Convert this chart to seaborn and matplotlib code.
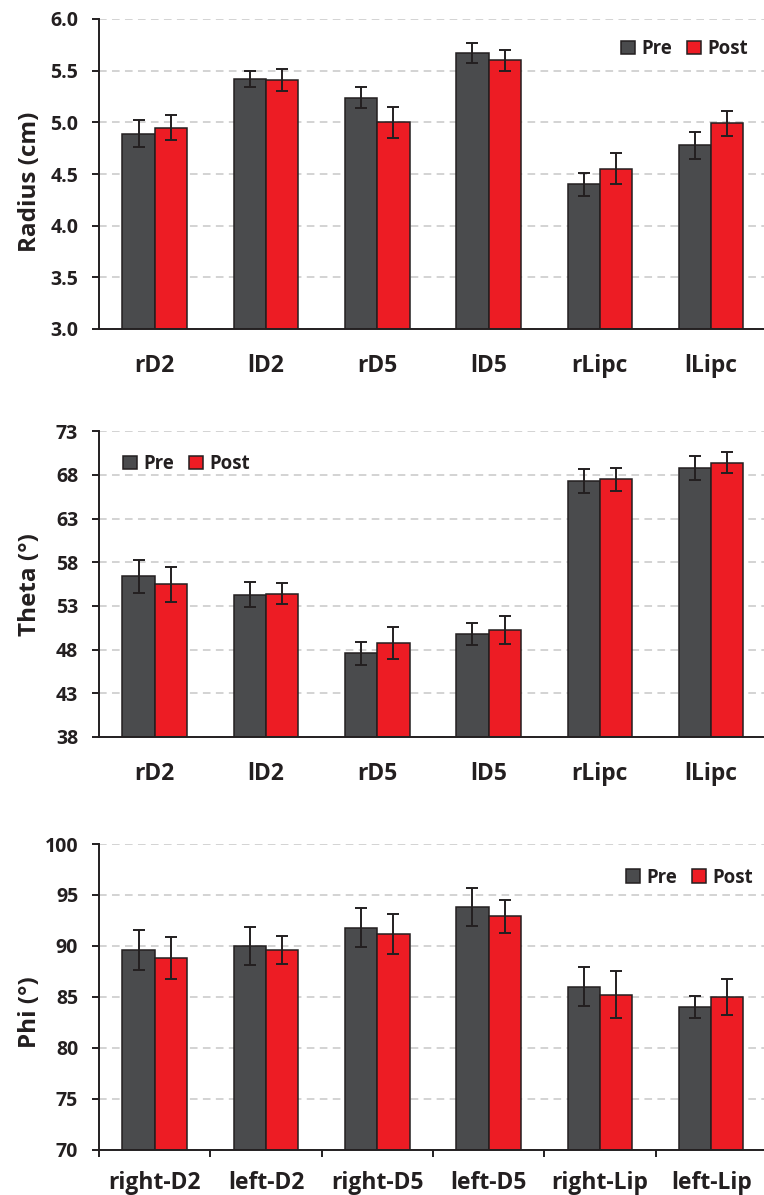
import numpy as np
import pandas as pd
import matplotlib
matplotlib.use("Agg")
import matplotlib.pyplot as plt
from matplotlib.ticker import FormatStrFormatter
import seaborn as sns

# ---- data ----
short_regions = ['rD2', 'lD2', 'rD5', 'lD5', 'rLipc', 'lLipc']
long_regions = ['right-D2', 'left-D2', 'right-D5', 'left-D5', 'right-Lip', 'left-Lip']
phases = ['Pre', 'Post']

radius_pre = [4.89, 5.42, 5.24, 5.67, 4.40, 4.78]
radius_post = [4.95, 5.41, 5.00, 5.60, 4.55, 4.99]
radius_pre_err = [0.13, 0.08, 0.10, 0.10, 0.11, 0.13]
radius_post_err = [0.12, 0.11, 0.15, 0.10, 0.15, 0.12]

theta_pre = [56.4, 54.3, 47.6, 49.8, 67.3, 68.8]
theta_post = [55.5, 54.4, 48.8, 50.2, 67.5, 69.4]
theta_pre_err = [1.9, 1.4, 1.3, 1.3, 1.4, 1.4]
theta_post_err = [2.0, 1.2, 1.85, 1.6, 1.3, 1.2]

phi_pre = [89.6, 90.0, 91.8, 93.8, 86.0, 84.0]
phi_post = [88.8, 89.6, 91.2, 92.9, 85.2, 85.0]
phi_pre_err = [2.0, 1.9, 1.9, 1.85, 1.9, 1.1]
phi_post_err = [2.05, 1.4, 1.95, 1.65, 2.3, 1.75]

radius_ticks = [3.0, 3.5, 4.0, 4.5, 5.0, 5.5, 6.0]
theta_ticks = [38, 43, 48, 53, 58, 63, 68, 73]
phi_ticks = [70, 75, 80, 85, 90, 95, 100]

DARK = '#4a4b4d'
RED = '#ed1c24'
INK = '#231f20'

sns.set_style('white')
plt.rcParams['font.family'] = ['Open Sans', 'DejaVu Sans']
plt.rcParams['font.weight'] = 'bold'
plt.rcParams['axes.labelweight'] = 'bold'
plt.rcParams['text.color'] = INK
plt.rcParams['axes.labelcolor'] = INK
plt.rcParams['xtick.color'] = INK
plt.rcParams['ytick.color'] = INK

fig = plt.figure(figsize=(7.64, 11.95), dpi=100)

W, H = 764.0, 1195.0
left = 99 / W
width = 665 / W
group_px = 111.3


def make_panel(rect, regions, pre, post, pre_err, post_err, ticks, fmt,
               ylabel, label_y, legend_xy, boundary_ticks, xpad):
    ax = fig.add_axes(rect)
    df = pd.DataFrame({
        'region': regions * 2,
        'phase': ['Pre'] * len(regions) + ['Post'] * len(regions),
        'value': list(pre) + list(post),
    })
    sns.barplot(data=df, x='region', y='value', hue='phase', hue_order=phases,
                order=regions, palette={'Pre': DARK, 'Post': RED},
                saturation=1, width=0.58, errorbar=None, edgecolor=INK,
                linewidth=1.1, ax=ax, zorder=2)
    # error bars on top of the bars seaborn drew
    for cont, errs in zip(ax.containers, [pre_err, post_err]):
        xs = [p.get_x() + p.get_width() / 2 for p in cont.patches]
        ys = [p.get_height() + p.get_y() for p in cont.patches]
        ax.errorbar(xs, ys, yerr=errs, fmt='none', ecolor=INK, elinewidth=1.4,
                    capsize=4.2, capthick=1.4, zorder=3)

    ax.set_ylim(ticks[0], ticks[-1])
    ax.set_yticks(ticks)
    ax.yaxis.set_major_formatter(FormatStrFormatter(fmt))
    ax.set_xlim(-0.5, -0.5 + 665 / group_px)
    ax.grid(axis='y', color='#c8c8c8', linestyle=(0, (5, 3.5)), linewidth=1.1)
    ax.set_axisbelow(True)

    for s in ['top', 'right']:
        ax.spines[s].set_visible(False)
    for s in ['left', 'bottom']:
        ax.spines[s].set_color(INK)
        ax.spines[s].set_linewidth(1.4)

    ax.tick_params(axis='y', which='major', length=5, width=1.4, pad=10,
                   labelsize=14, direction='out', left=True)
    ax.tick_params(axis='x', which='major', length=0, pad=xpad, labelsize=16.5)
    if boundary_ticks:
        ax.set_xticks(np.arange(-0.5, len(regions) - 0.5, 1.0), minor=True)
        ax.tick_params(axis='x', which='minor', length=5, width=1.4,
                       direction='out', bottom=True, color=INK)
    for lab in ax.get_xticklabels() + ax.get_yticklabels():
        lab.set_fontweight('bold')

    ax.set_xlabel('')
    ax.set_ylabel(ylabel, fontsize=17.5, fontweight='bold')
    ax.yaxis.set_label_coords(-0.086, label_y)

    handles, labels = ax.get_legend_handles_labels()
    ax.legend(handles, labels, loc='center left', bbox_to_anchor=legend_xy,
              ncol=2, frameon=False, borderpad=0, borderaxespad=0,
              handlelength=0.75, handleheight=0.75, handletextpad=0.35,
              columnspacing=0.8, prop={'weight': 'bold', 'size': 13.4})
    return ax


make_panel([left, 1 - 329 / H, width, 310 / H], short_regions,
           radius_pre, radius_post, radius_pre_err, radius_post_err,
           radius_ticks, '%.1f', 'Radius (cm)', 0.475, (0.7845, 0.903),
           False, 18)

make_panel([left, 1 - 737 / H, width, 305.7 / H], short_regions,
           theta_pre, theta_post, theta_pre_err, theta_post_err,
           theta_ticks, '%d', 'Theta (°)', 0.5, (0.036, 0.893),
           False, 18)

make_panel([left, 1 - 1149.7 / H, width, 305.7 / H], long_regions,
           phi_pre, phi_post, phi_pre_err, phi_post_err,
           phi_ticks, '%d', 'Phi (°)', 0.451, (0.792, 0.89),
           True, 15)

fig.savefig('out.png', dpi=100)
